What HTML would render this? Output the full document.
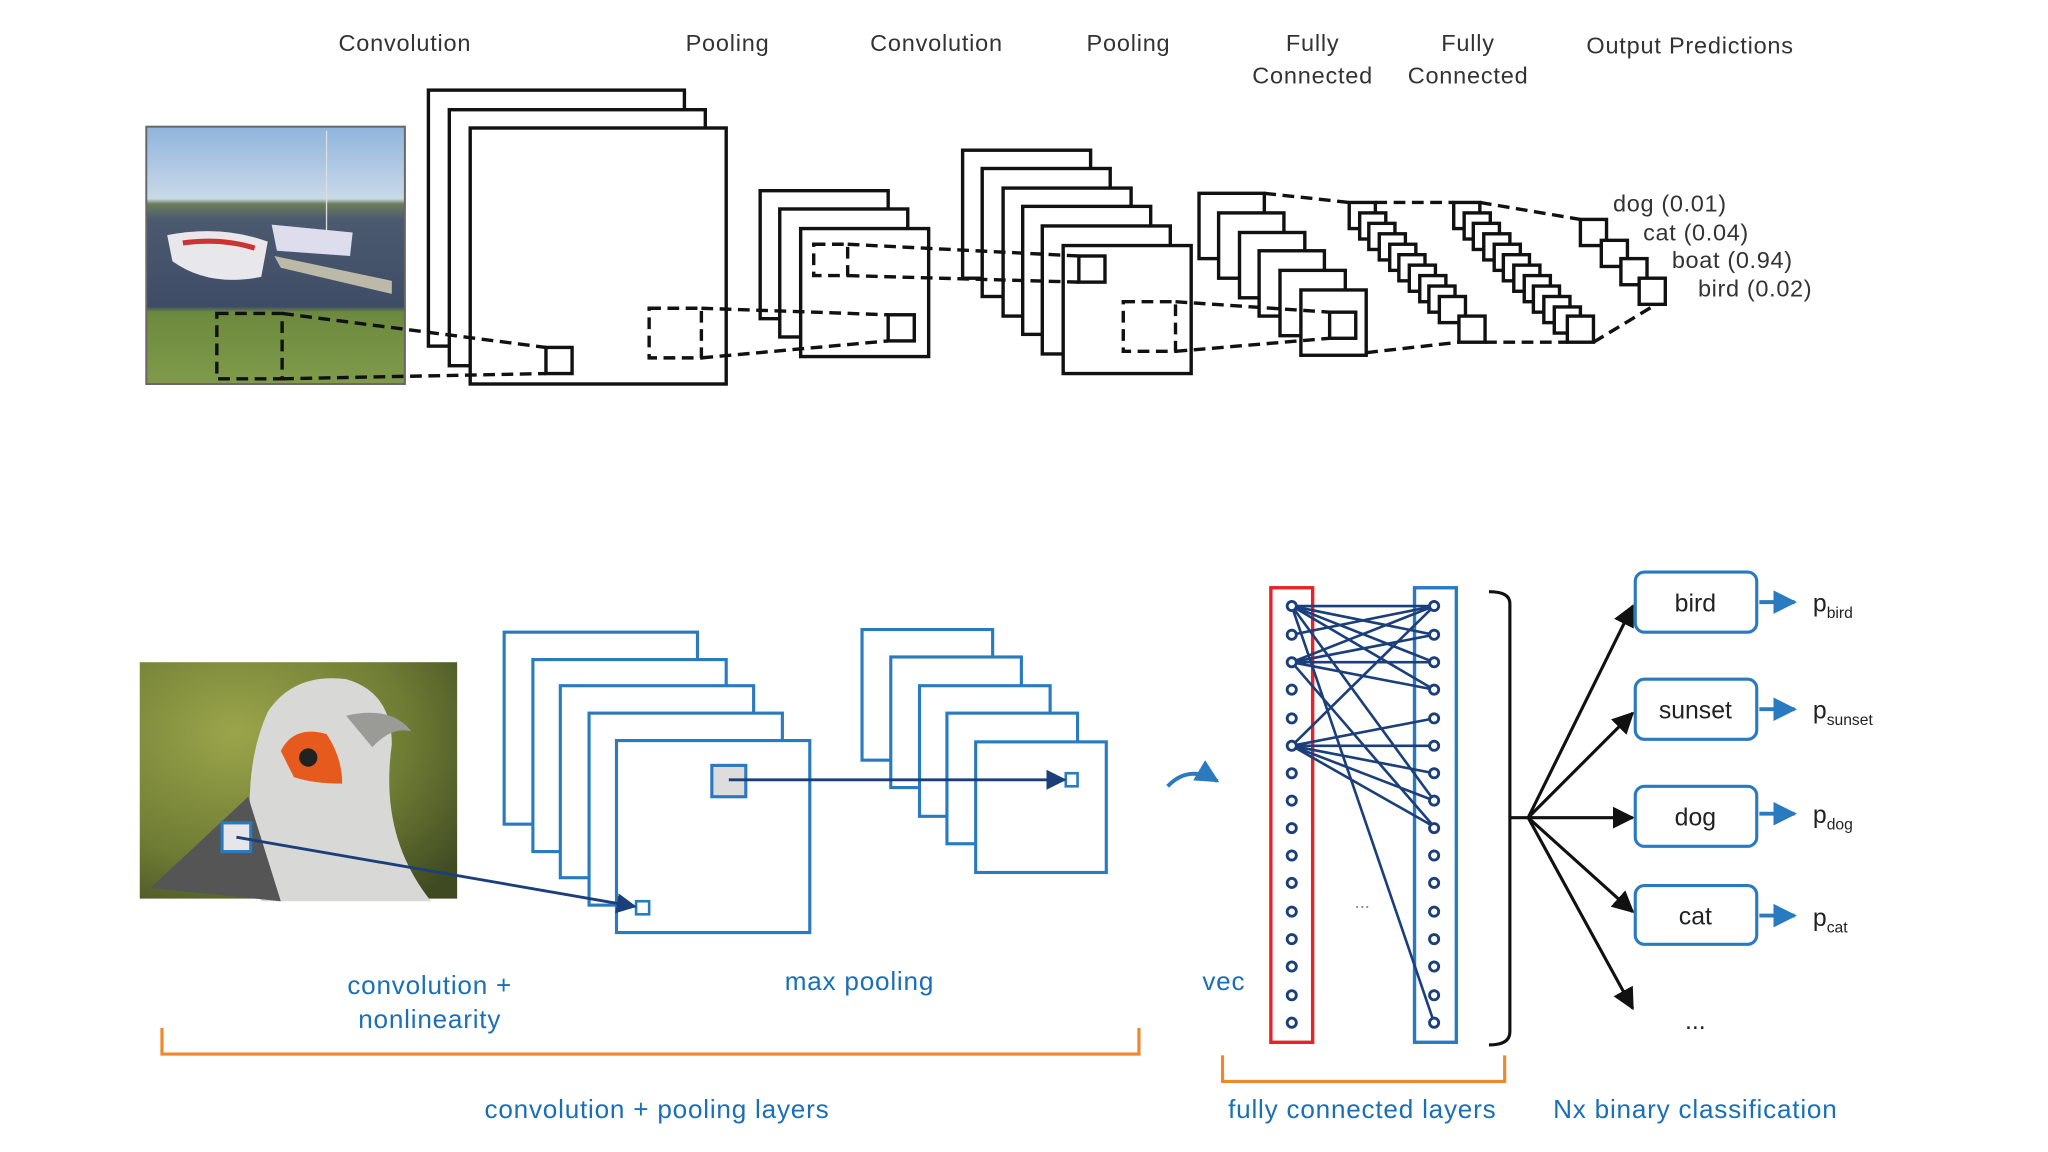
<!DOCTYPE html>
<html><head><meta charset="utf-8"><style>
html,body{margin:0;padding:0;background:#fff;}
svg{display:block;}
text{font-family:"Liberation Sans",sans-serif;}
</style></head><body>
<svg width="2048" height="1152" viewBox="0 0 1568 882" xmlns="http://www.w3.org/2000/svg">
<defs>
<linearGradient id="sky" x1="0" y1="0" x2="0" y2="1">
<stop offset="0" stop-color="#8fb4dc"/><stop offset="0.28" stop-color="#c9d9e8"/><stop offset="0.3" stop-color="#6c7d5a"/><stop offset="0.36" stop-color="#4c5a70"/><stop offset="0.7" stop-color="#3e4c66"/><stop offset="0.72" stop-color="#6c8a3e"/><stop offset="1" stop-color="#7f9a4a"/>
</linearGradient>
<radialGradient id="bg2" cx="0.3" cy="0.3" r="0.9">
<stop offset="0" stop-color="#9aa54a"/><stop offset="0.6" stop-color="#6f7c34"/><stop offset="1" stop-color="#3f4a22"/>
</radialGradient>
<marker id="ab" viewBox="0 0 10 10" refX="9" refY="5" markerWidth="7" markerHeight="7" orient="auto"><path d="M0,0L10,5L0,10z" fill="#1b3f7a"/></marker>
<marker id="ak" viewBox="0 0 10 10" refX="9" refY="5" markerWidth="7" markerHeight="7" orient="auto"><path d="M0,0L10,5L0,10z" fill="#111"/></marker>
<marker id="al" viewBox="0 0 10 10" refX="9" refY="5" markerWidth="6" markerHeight="6" orient="auto"><path d="M0,0L10,5L0,10z" fill="#2a7ac0"/></marker>
</defs>

<!-- TOP labels -->
<g font-size="18" fill="#333" text-anchor="middle" letter-spacing="0.6">
<text x="310" y="39">Convolution</text>
<text x="557" y="39">Pooling</text>
<text x="717" y="39">Convolution</text>
<text x="864" y="39">Pooling</text>
<text x="1005" y="39">Fully</text><text x="1005" y="64">Connected</text>
<text x="1124" y="39">Fully</text><text x="1124" y="64">Connected</text>
<text x="1294" y="41">Output Predictions</text>
</g>

<!-- boat photo -->
<rect x="112" y="97" width="198" height="197" fill="url(#sky)" stroke="#666" stroke-width="1.5"/>
<path d="M128,180 Q170,172 205,185 L200,212 Q160,220 132,200z" fill="#e8e8ec"/>
<path d="M140,186 Q170,182 195,190" stroke="#c33" stroke-width="4" fill="none"/>
<path d="M208,172 L270,178 L268,196 L212,192z" fill="#dde"/>
<path d="M210,196 L300,215 L300,225 L215,205z" fill="#bcb9a8"/>
<line x1="250" y1="100" x2="250" y2="180" stroke="#ddd"/>

<g fill="#fff" stroke="#111" stroke-width="2.6">
<rect x="328" y="69" width="196" height="196"/>
<rect x="344" y="84" width="196" height="196"/>
<rect x="360" y="98" width="196" height="196"/>
<rect x="418" y="266" width="20" height="20"/>
<rect x="582" y="146" width="98" height="98"/>
<rect x="597" y="160" width="98" height="98"/>
<rect x="613" y="175" width="98" height="98"/>
<rect x="680" y="241" width="20" height="20"/>
<rect x="737" y="115" width="98" height="98"/>
<rect x="752" y="129" width="98" height="98"/>
<rect x="768" y="144" width="98" height="98"/>
<rect x="783" y="158" width="98" height="98"/>
<rect x="798" y="173" width="98" height="98"/>
<rect x="814" y="188" width="98" height="98"/>
<rect x="826" y="196" width="20" height="20"/>
<rect x="918" y="148" width="50" height="50"/>
<rect x="933" y="163" width="50" height="50"/>
<rect x="949" y="178" width="50" height="50"/>
<rect x="964" y="192" width="50" height="50"/>
<rect x="980" y="207" width="50" height="50"/>
<rect x="996" y="222" width="50" height="50"/>
<rect x="1018" y="239" width="20" height="20"/>
</g>
<g fill="#fff" stroke="#111" stroke-width="2.6">
<rect x="1033" y="155" width="20" height="20"/><rect x="1041" y="163" width="20" height="20"/><rect x="1048" y="171" width="20" height="20"/><rect x="1056" y="179" width="20" height="20"/><rect x="1064" y="187" width="20" height="20"/><rect x="1071" y="195" width="20" height="20"/><rect x="1079" y="203" width="20" height="20"/><rect x="1087" y="211" width="20" height="20"/><rect x="1094" y="219" width="20" height="20"/><rect x="1102" y="227" width="20" height="20"/><rect x="1117" y="242" width="20" height="20"/>
<rect x="1113" y="155" width="20" height="20"/><rect x="1121" y="163" width="20" height="20"/><rect x="1128" y="171" width="20" height="20"/><rect x="1136" y="179" width="20" height="20"/><rect x="1144" y="187" width="20" height="20"/><rect x="1151" y="195" width="20" height="20"/><rect x="1159" y="203" width="20" height="20"/><rect x="1167" y="211" width="20" height="20"/><rect x="1174" y="219" width="20" height="20"/><rect x="1182" y="227" width="20" height="20"/><rect x="1190" y="235" width="20" height="20"/><rect x="1200" y="242" width="20" height="20"/>
<rect x="1210" y="168" width="20" height="20"/><rect x="1226" y="184" width="20" height="20"/><rect x="1241" y="198" width="20" height="20"/><rect x="1255" y="213" width="20" height="20"/>
</g>
<!-- dashed -->
<g fill="none" stroke="#111" stroke-width="2.6" stroke-dasharray="9,5">
<rect x="166" y="240" width="50" height="50"/>
<line x1="216" y1="240" x2="418" y2="266"/><line x1="216" y1="290" x2="418" y2="286"/>
<rect x="497" y="236" width="40" height="38"/>
<line x1="537" y1="236" x2="680" y2="241"/><line x1="537" y1="274" x2="680" y2="261"/>
<rect x="623" y="187" width="26" height="24"/>
<line x1="649" y1="187" x2="826" y2="196"/><line x1="649" y1="211" x2="826" y2="216"/>
<rect x="860" y="231" width="40" height="38"/>
<line x1="900" y1="231" x2="1018" y2="239"/><line x1="900" y1="269" x2="1018" y2="259"/>
<line x1="968" y1="148" x2="1033" y2="155"/><line x1="1046" y1="270" x2="1117" y2="262"/>
<line x1="1053" y1="155" x2="1113" y2="155"/><line x1="1137" y1="262" x2="1200" y2="262"/>
<line x1="1133" y1="155" x2="1210" y2="168"/><line x1="1220" y1="262" x2="1268" y2="233"/>
</g>
<g font-size="18" fill="#333" letter-spacing="0.5">
<text x="1235" y="162">dog (0.01)</text>
<text x="1258" y="184">cat (0.04)</text>
<text x="1280" y="205">boat (0.94)</text>
<text x="1300" y="227">bird (0.02)</text>
</g>

<!-- BOTTOM -->
<rect x="107" y="507" width="243" height="181" fill="url(#bg2)"/>
<path d="M200,690 Q180,600 205,545 Q225,515 265,520 Q300,530 300,570 Q290,640 330,690z" fill="#d8d8d6"/>
<path d="M265,548 Q300,540 315,560 Q300,556 285,572z" fill="#9a9a96"/>
<path d="M215,575 Q225,555 250,562 Q262,580 262,600 Q240,600 225,595z" fill="#e65a1e"/>
<circle cx="236" cy="580" r="7" fill="#222"/>
<path d="M115,680 L190,610 L215,690z" fill="#555"/>

<g fill="#fff" stroke="#2a7ac0" stroke-width="2.4">
<rect x="386" y="484" width="148" height="147"/>
<rect x="408" y="505" width="148" height="147"/>
<rect x="429" y="525" width="148" height="147"/>
<rect x="451" y="546" width="148" height="147"/>
<rect x="472" y="567" width="148" height="147"/>
<rect x="660" y="482" width="100" height="100"/>
<rect x="682" y="503" width="100" height="100"/>
<rect x="704" y="525" width="100" height="100"/>
<rect x="725" y="546" width="100" height="100"/>
<rect x="747" y="568" width="100" height="100"/>
</g>
<rect x="170" y="630" width="22" height="22" fill="#e6e6ea" stroke="#2a7ac0" stroke-width="2.4"/>
<rect x="545" y="586" width="26" height="24" fill="#ddd" stroke="#2a7ac0" stroke-width="2.4"/>
<rect x="487" y="690" width="10" height="10" fill="#fff" stroke="#2a7ac0" stroke-width="2"/>
<rect x="816" y="592" width="9" height="10" fill="#fff" stroke="#2a7ac0" stroke-width="2"/>
<line x1="181" y1="641" x2="486" y2="694" stroke="#1b3f7a" stroke-width="2.2" marker-end="url(#ab)"/>
<line x1="558" y1="597" x2="815" y2="597" stroke="#1b3f7a" stroke-width="2.2" marker-end="url(#ab)"/>
<path d="M894,602 Q910,585 932,598" stroke="#2a7ac0" stroke-width="3" fill="none" marker-end="url(#al)"/>

<rect x="973" y="450" width="32" height="348" fill="none" stroke="#e0262a" stroke-width="2.6"/>
<rect x="1083" y="450" width="32" height="348" fill="none" stroke="#2a7ac0" stroke-width="2.6"/>
<g stroke="#1b3f7a" stroke-width="2" fill="none">
<line x1="989" y1="464" x2="1098" y2="464"/><line x1="989" y1="464" x2="1098" y2="486"/><line x1="989" y1="464" x2="1098" y2="507"/><line x1="989" y1="464" x2="1098" y2="528"/><line x1="989" y1="464" x2="1098" y2="783"/>
<line x1="989" y1="507" x2="1098" y2="464"/><line x1="989" y1="507" x2="1098" y2="486"/><line x1="989" y1="507" x2="1098" y2="507"/><line x1="989" y1="507" x2="1098" y2="528"/><line x1="989" y1="507" x2="1098" y2="633"/>
<line x1="989" y1="571" x2="1098" y2="464"/><line x1="989" y1="571" x2="1098" y2="550"/><line x1="989" y1="571" x2="1098" y2="571"/><line x1="989" y1="571" x2="1098" y2="592"/><line x1="989" y1="571" x2="1098" y2="613"/><line x1="989" y1="571" x2="1098" y2="633"/>
<line x1="989" y1="464" x2="1098" y2="613"/><line x1="989" y1="486" x2="1098" y2="464"/>
</g>
<g fill="#fff" stroke="#1b3f7a" stroke-width="2.2">
<circle cx="989" cy="464" r="3.5"/><circle cx="989" cy="486" r="3.5"/><circle cx="989" cy="507" r="3.5"/><circle cx="989" cy="528" r="3.5"/><circle cx="989" cy="550" r="3.5"/><circle cx="989" cy="571" r="3.5"/><circle cx="989" cy="592" r="3.5"/><circle cx="989" cy="613" r="3.5"/><circle cx="989" cy="634" r="3.5"/><circle cx="989" cy="655" r="3.5"/><circle cx="989" cy="676" r="3.5"/><circle cx="989" cy="698" r="3.5"/><circle cx="989" cy="719" r="3.5"/><circle cx="989" cy="740" r="3.5"/><circle cx="989" cy="762" r="3.5"/><circle cx="989" cy="783" r="3.5"/>
<circle cx="1098" cy="464" r="3.5"/><circle cx="1098" cy="486" r="3.5"/><circle cx="1098" cy="507" r="3.5"/><circle cx="1098" cy="528" r="3.5"/><circle cx="1098" cy="550" r="3.5"/><circle cx="1098" cy="571" r="3.5"/><circle cx="1098" cy="592" r="3.5"/><circle cx="1098" cy="613" r="3.5"/><circle cx="1098" cy="634" r="3.5"/><circle cx="1098" cy="655" r="3.5"/><circle cx="1098" cy="676" r="3.5"/><circle cx="1098" cy="698" r="3.5"/><circle cx="1098" cy="719" r="3.5"/><circle cx="1098" cy="740" r="3.5"/><circle cx="1098" cy="762" r="3.5"/><circle cx="1098" cy="783" r="3.5"/>
</g>
<text x="1043" y="695" font-size="14" fill="#888" text-anchor="middle">...</text>

<path d="M1140,453 Q1156,453 1156,462 L1156,790 Q1156,800 1140,800 M1156,626 L1170,626" stroke="#111" stroke-width="2.4" fill="none"/>
<g stroke="#111" stroke-width="2.4" marker-end="url(#ak)">
<line x1="1170" y1="626" x2="1250" y2="464"/>
<line x1="1170" y1="626" x2="1250" y2="546"/>
<line x1="1170" y1="626" x2="1250" y2="626"/>
<line x1="1170" y1="626" x2="1250" y2="698"/>
<line x1="1170" y1="626" x2="1250" y2="772"/>
</g>
<g fill="#fff" stroke="#2a7ac0" stroke-width="2.4">
<rect x="1252" y="438" width="93" height="46" rx="7"/>
<rect x="1252" y="520" width="93" height="46" rx="7"/>
<rect x="1252" y="602" width="93" height="46" rx="7"/>
<rect x="1252" y="678" width="93" height="45" rx="7"/>
</g>
<g font-size="19" fill="#222" text-anchor="middle">
<text x="1298" y="468">bird</text><text x="1298" y="550">sunset</text><text x="1298" y="632">dog</text><text x="1298" y="708">cat</text>
<text x="1298" y="788">...</text>
</g>
<g stroke="#2a7ac0" stroke-width="3" marker-end="url(#al)">
<line x1="1347" y1="461" x2="1374" y2="461"/><line x1="1347" y1="543" x2="1374" y2="543"/><line x1="1347" y1="623" x2="1374" y2="623"/><line x1="1347" y1="701" x2="1374" y2="701"/>
</g>
<g font-size="19" fill="#222">
<text x="1388" y="468">p<tspan font-size="12" dy="5">bird</tspan></text>
<text x="1388" y="550">p<tspan font-size="12" dy="5">sunset</tspan></text>
<text x="1388" y="630">p<tspan font-size="12" dy="5">dog</tspan></text>
<text x="1388" y="709">p<tspan font-size="12" dy="5">cat</tspan></text>
</g>

<g font-size="20" fill="#1a6fb5" text-anchor="middle" letter-spacing="0.6">
<text x="329" y="761">convolution +</text>
<text x="329" y="787">nonlinearity</text>
<text x="658" y="758">max pooling</text>
<text x="937" y="758">vec</text>
<text x="503" y="856">convolution + pooling layers</text>
<text x="1043" y="856">fully connected layers</text>
<text x="1298" y="856">Nx binary classification</text>
</g>
<g stroke="#f0872a" stroke-width="2.4" fill="none">
<path d="M124,787 L124,807 L872,807 L872,787"/>
<path d="M936,808 L936,828 L1152,828 L1152,808"/>
</g>
</svg>
</body></html>
